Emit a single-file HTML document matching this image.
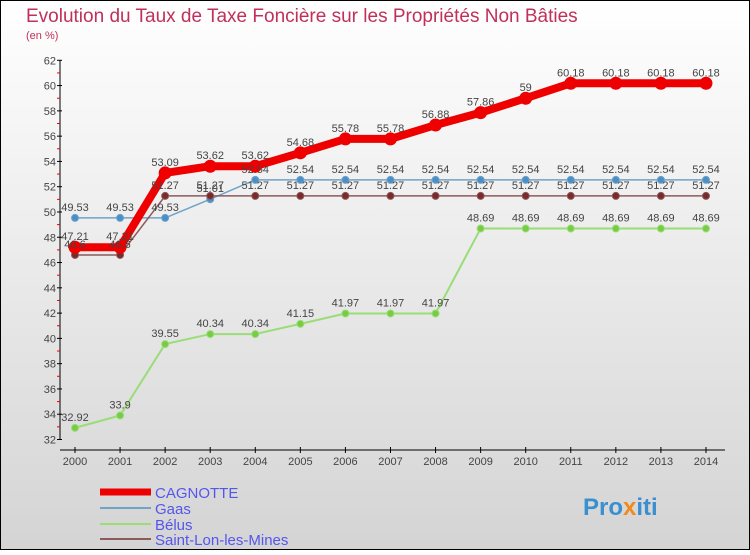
<!DOCTYPE html>
<html><head><meta charset="utf-8"><style>
body{margin:0}
#c{width:750px;height:550px;position:relative;font-family:"Liberation Sans",sans-serif}
</style></head><body>
<div id="c">
<svg id="s" width="750" height="550" xmlns="http://www.w3.org/2000/svg">
<defs><linearGradient id="bg" x1="0" y1="0" x2="0" y2="1"><stop offset="0" stop-color="#ffffff"/><stop offset="1" stop-color="#d4d4d4"/></linearGradient></defs>
<rect x="0.5" y="0.5" width="749" height="549" fill="url(#bg)" stroke="#000"/>
<text x="26" y="22" font-size="19" fill="#c0305a">Evolution du Taux de Taxe Foncière sur les Propriétés Non Bâties</text>
<text x="26" y="39" font-size="11" fill="#c0305a">(en %)</text>
<g id="axes"></g><g id="series"></g><g id="labels"></g>
<g font-size="15" fill="#5555ee">
<line x1="100" y1="492" x2="151" y2="492" stroke="#ee0000" stroke-width="7"/>
<text x="155" y="498">CAGNOTTE</text>
<line x1="100" y1="508" x2="151" y2="508" stroke="#6fa3c8" stroke-width="2"/>
<text x="155" y="514">Gaas</text>
<line x1="100" y1="524" x2="151" y2="524" stroke="#99dd77" stroke-width="2"/>
<text x="155" y="530">Bélus</text>
<line x1="100" y1="539" x2="151" y2="539" stroke="#8b5a5a" stroke-width="2"/>
<text x="155" y="545">Saint-Lon-les-Mines</text>
</g>
<text x="583" y="515" font-size="24" font-weight="bold" fill="#3a8fd0">Pro<tspan fill="#f08a1c">x</tspan>iti</text>
</svg>
</div>
<script>
const years=[2000,2001,2002,2003,2004,2005,2006,2007,2008,2009,2010,2011,2012,2013,2014];
const cagnotte=[47.21,47.21,53.09,53.62,53.62,54.68,55.78,55.78,56.88,57.86,59,60.18,60.18,60.18,60.18];
const gaas=[49.53,49.53,49.53,51.01,52.54,52.54,52.54,52.54,52.54,52.54,52.54,52.54,52.54,52.54,52.54];
const belus=[32.92,33.9,39.55,40.34,40.34,41.15,41.97,41.97,41.97,48.69,48.69,48.69,48.69,48.69,48.69];
const saintLon=[46.6,46.6,51.27,51.27,51.27,51.27,51.27,51.27,51.27,51.27,51.27,51.27,51.27,51.27,51.27];
const yTicks=[32,34,36,38,40,42,44,46,48,50,52,54,56,58,60,62];
const NS="http://www.w3.org/2000/svg";
const x=i=>75+i*45.07;
const y=v=>439.5-(v-32)*12.64;
function mk(t,a,p){const e=document.createElementNS(NS,t);for(const k in a)e.setAttribute(k,a[k]);p.appendChild(e);return e;}
const ax=document.getElementById('axes'),se=document.getElementById('series'),lb=document.getElementById('labels');
let yl=mk('line',{x1:60,y1:y(62),x2:60,y2:y(32),stroke:'#000'},ax);


let xl=mk('line',{x1:60,y1:450,x2:725,y2:450,stroke:'#000'},ax);


yTicks.forEach(v=>{
 const tk=mk('line',{x1:57,x2:62,y1:y(v),y2:y(v),stroke:'#000'},ax);
 
 
 if(v<62){const m=mk('line',{x1:57,x2:60,y1:y(v+1),y2:y(v+1),stroke:'#e00'},ax);
 
 }
 const t=mk('text',{x:56,y:y(v)+4,'font-size':11,fill:'#444','text-anchor':'end'},ax);t.textContent=v;
 
 
});
years.forEach((yr,i)=>{
 const tk=mk('line',{x1:x(i),x2:x(i),y1:447,y2:453,stroke:'#000'},ax);
 
 
 const t=mk('text',{x:x(i),y:465,'font-size':11,fill:'#444','text-anchor':'middle'},ax);t.textContent=yr;
 
 
});
function series(d,name,col,w,r,dot){
 const pl=mk('polyline',{points:d.map((v,i)=>x(i)+','+y(v)).join(' '),fill:'none',stroke:col,'stroke-width':w,'stroke-linejoin':'round'},se);
 
 
 d.forEach((v,i)=>{
  const c=mk('circle',{cx:x(i),cy:y(v),r:r,fill:dot,stroke:col,'stroke-width':1},se);
  
  
  const t=mk('text',{x:x(i),y:y(v)-7,'font-size':11,fill:'#444','text-anchor':'middle'},lb);t.textContent=v;
  
  
 });
}
series(belus,'belus','#99dd77',2,3.5,'#77cc44');
series(gaas,'gaas','#6fa3c8',1.5,3.5,'#4a8fc8');
series(saintLon,'saint-lon','#8b5a5a',1.5,3.5,'#7a2a2a');
series(cagnotte,'cagnotte','#ee0000',8,6,'#ee0000');
</script>
</body></html>
